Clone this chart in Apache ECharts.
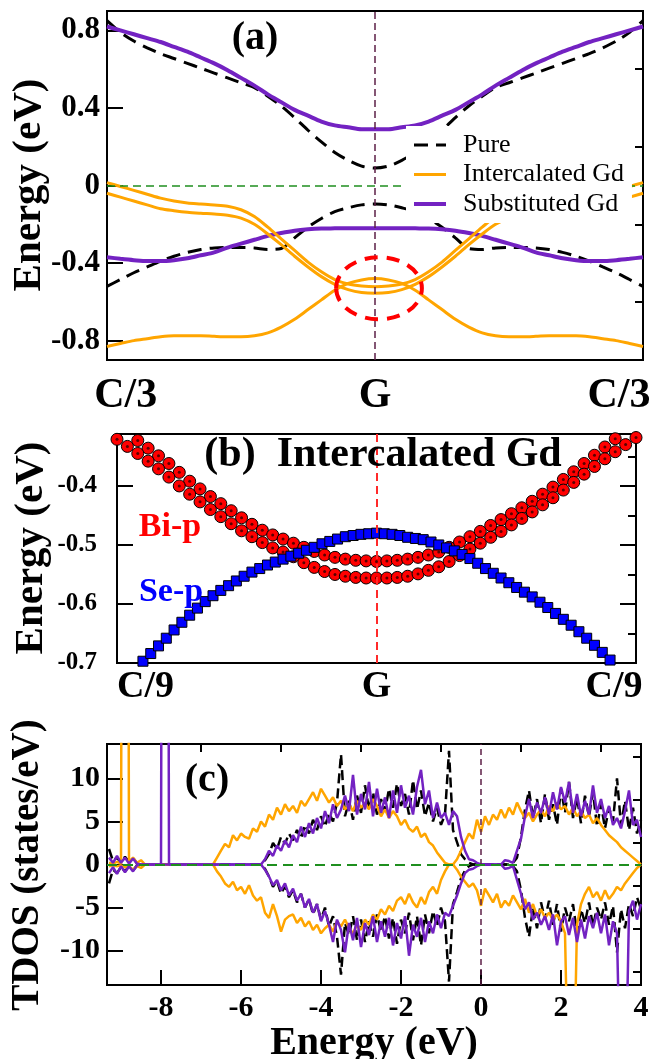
<!DOCTYPE html>
<html><head><meta charset="utf-8">
<script src="https://cdn.jsdelivr.net/npm/echarts@6/dist/echarts.min.js"></script>
<style>html,body{margin:0;padding:0;background:#fff}#c{width:650px;height:1059px}</style>
</head><body><div id="c"></div>
<script>
// ---------- Panel (a): band structure ----------
const kA = [-1,-0.95,-0.9,-0.85,-0.8,-0.75,-0.7,-0.65,-0.6,-0.55,-0.5,-0.45,-0.4,-0.35,-0.3,-0.25,-0.2,-0.15,-0.1,-0.05,0,0.05,0.1,0.15,0.2,0.25,0.3,0.35,0.4,0.45,0.5,0.55,0.6,0.65,0.7,0.75,0.8,0.85,0.9,0.95,1];
const pureCB = [0.85,0.79,0.745,0.71,0.68,0.655,0.63,0.605,0.58,0.555,0.53,0.505,0.46,0.41,0.35,0.285,0.225,0.17,0.13,0.10,0.09,0.10,0.13,0.17,0.225,0.285,0.35,0.41,0.46,0.505,0.53,0.555,0.58,0.605,0.63,0.655,0.68,0.71,0.745,0.79,0.85];
const pureVB = [-0.52,-0.485,-0.45,-0.42,-0.39,-0.365,-0.345,-0.33,-0.322,-0.32,-0.32,-0.322,-0.33,-0.325,-0.27,-0.215,-0.17,-0.135,-0.115,-0.10,-0.095,-0.10,-0.115,-0.135,-0.17,-0.215,-0.27,-0.325,-0.33,-0.322,-0.32,-0.32,-0.322,-0.33,-0.345,-0.365,-0.39,-0.42,-0.45,-0.485,-0.52];
const subCB = [0.82,0.80,0.78,0.76,0.74,0.715,0.69,0.66,0.63,0.595,0.555,0.515,0.47,0.43,0.39,0.36,0.33,0.31,0.30,0.29,0.29,0.29,0.30,0.31,0.33,0.36,0.39,0.43,0.47,0.515,0.555,0.595,0.63,0.66,0.69,0.715,0.74,0.76,0.78,0.80,0.82];
const subVB = [-0.37,-0.378,-0.385,-0.39,-0.39,-0.385,-0.375,-0.36,-0.345,-0.32,-0.30,-0.28,-0.26,-0.245,-0.233,-0.226,-0.222,-0.221,-0.22,-0.22,-0.22,-0.22,-0.22,-0.221,-0.222,-0.226,-0.233,-0.245,-0.26,-0.28,-0.30,-0.32,-0.345,-0.36,-0.375,-0.385,-0.39,-0.39,-0.385,-0.378,-0.37];
const intO1 = [0.015,-0.005,-0.025,-0.045,-0.065,-0.08,-0.09,-0.095,-0.10,-0.107,-0.125,-0.16,-0.215,-0.275,-0.335,-0.395,-0.445,-0.485,-0.508,-0.518,-0.522,-0.518,-0.508,-0.485,-0.445,-0.395,-0.335,-0.275,-0.215,-0.16,-0.125,-0.107,-0.10,-0.095,-0.09,-0.08,-0.065,-0.045,-0.025,-0.005,0.015];
const intO2 = [-0.04,-0.06,-0.08,-0.10,-0.12,-0.13,-0.138,-0.143,-0.147,-0.153,-0.168,-0.20,-0.25,-0.305,-0.365,-0.42,-0.47,-0.51,-0.537,-0.552,-0.556,-0.552,-0.537,-0.51,-0.47,-0.42,-0.365,-0.305,-0.25,-0.20,-0.168,-0.153,-0.147,-0.143,-0.138,-0.13,-0.12,-0.10,-0.08,-0.06,-0.04];
const intO3 = [-0.83,-0.815,-0.80,-0.79,-0.78,-0.775,-0.775,-0.775,-0.778,-0.78,-0.78,-0.775,-0.76,-0.73,-0.69,-0.64,-0.59,-0.54,-0.505,-0.487,-0.48,-0.487,-0.505,-0.54,-0.59,-0.64,-0.69,-0.73,-0.76,-0.775,-0.78,-0.78,-0.778,-0.775,-0.775,-0.775,-0.78,-0.79,-0.80,-0.815,-0.83];
const aYMajor = [-0.8,-0.4,0,0.4,0.8];
const aYMinor = [-0.6,-0.2,0.2,0.6];
const aXLabelPos = [-0.93,0,0.91];
const aXLabelText = ['C/3','G','C/3'];
const ellipseMark = [[0.015,-0.53,0.16,0.16]]; // centre k, centre E, half-width k, half-height E

// ---------- Panel (b): orbital-projected bands ----------
const kB = [-1,-0.96,-0.92,-0.88,-0.84,-0.8,-0.76,-0.72,-0.68,-0.64,-0.6,-0.56,-0.52,-0.48,-0.44,-0.4,-0.36,-0.32,-0.28,-0.24,-0.2,-0.16,-0.12,-0.08,-0.04,0,0.04,0.08,0.12,0.16,0.2,0.24,0.28,0.32,0.36,0.4,0.44,0.48,0.52,0.56,0.6,0.64,0.68,0.72,0.76,0.8,0.84,0.88,0.92,0.96,1];
const biUpper = [-0.298,-0.311,-0.323,-0.336,-0.349,-0.362,-0.377,-0.392,-0.405,-0.418,-0.430,-0.442,-0.454,-0.465,-0.475,-0.483,-0.490,-0.497,-0.504,-0.511,-0.517,-0.521,-0.524,-0.526,-0.527,-0.528,-0.527,-0.526,-0.524,-0.521,-0.517,-0.512,-0.504,-0.495,-0.486,-0.477,-0.467,-0.457,-0.447,-0.437,-0.426,-0.414,-0.402,-0.389,-0.376,-0.362,-0.348,-0.334,-0.320,-0.306,-0.293];
const biLower = [-0.321,-0.333,-0.345,-0.358,-0.371,-0.385,-0.400,-0.414,-0.427,-0.440,-0.452,-0.464,-0.476,-0.486,-0.496,-0.505,-0.512,-0.520,-0.530,-0.538,-0.545,-0.550,-0.553,-0.555,-0.556,-0.556,-0.556,-0.555,-0.553,-0.549,-0.543,-0.537,-0.528,-0.518,-0.507,-0.497,-0.487,-0.477,-0.466,-0.455,-0.444,-0.432,-0.420,-0.407,-0.394,-0.380,-0.367,-0.354,-0.342,-0.330,-0.318];
const kS = [-0.9,-0.87,-0.84,-0.81,-0.78,-0.75,-0.72,-0.69,-0.66,-0.63,-0.6,-0.57,-0.54,-0.51,-0.48,-0.45,-0.42,-0.39,-0.36,-0.33,-0.3,-0.27,-0.24,-0.21,-0.18,-0.15,-0.12,-0.09,-0.06,-0.03,0,0.03,0.06,0.09,0.12,0.15,0.18,0.21,0.24,0.27,0.3,0.33,0.36,0.39,0.42,0.45,0.48,0.51,0.54,0.57,0.6,0.63,0.66,0.69,0.72,0.75,0.78,0.81,0.84,0.87,0.9];
const seP = [-0.697,-0.684,-0.671,-0.658,-0.644,-0.631,-0.619,-0.607,-0.596,-0.586,-0.577,-0.569,-0.561,-0.553,-0.546,-0.540,-0.534,-0.529,-0.524,-0.519,-0.514,-0.509,-0.504,-0.498,-0.494,-0.490,-0.486,-0.484,-0.482,-0.481,-0.480,-0.481,-0.482,-0.484,-0.487,-0.489,-0.491,-0.495,-0.500,-0.505,-0.510,-0.516,-0.523,-0.531,-0.540,-0.548,-0.556,-0.564,-0.572,-0.580,-0.588,-0.597,-0.606,-0.616,-0.626,-0.636,-0.647,-0.658,-0.670,-0.682,-0.695];
const bYMajor = [-0.7,-0.6,-0.5,-0.4];
const bYMinor = [-0.65,-0.55,-0.45,-0.35];
const bXLabelPos = [-0.89,0,0.915];
const bXLabelText = ['C/9','G','C/9'];

// ---------- Panel (c): total DOS ----------
const energy = [-9.3,-9.2,-9.1,-9.0,-8.9,-8.8,-8.7,-8.6,-8.5,-8.4,
-8.3,-8.2,-8.1,-8.0,-7.9,-7.8,-7.7,-7.6,-7.5,-7.4,
-7.3,-7.2,-7.1,-7.0,-6.9,-6.8,-6.7,-6.6,-6.5,-6.4,
-6.3,-6.2,-6.1,-6.0,-5.9,-5.8,-5.7,-5.6,-5.5,-5.4,
-5.3,-5.2,-5.1,-5.0,-4.9,-4.8,-4.7,-4.6,-4.5,-4.4,
-4.3,-4.2,-4.1,-4.0,-3.9,-3.8,-3.7,-3.6,-3.5,-3.4,
-3.3,-3.2,-3.1,-3.0,-2.9,-2.8,-2.7,-2.6,-2.5,-2.4,
-2.3,-2.2,-2.1,-2.0,-1.9,-1.8,-1.7,-1.6,-1.5,-1.4,
-1.3,-1.2,-1.1,-1.0,-0.9,-0.8,-0.7,-0.6,-0.5,-0.4,
-0.3,-0.2,-0.1,0.0,0.1,0.2,0.3,0.4,0.5,0.6,
0.7,0.8,0.9,1.0,1.1,1.2,1.3,1.4,1.5,1.6,
1.7,1.8,1.9,2.0,2.1,2.2,2.3,2.4,2.5,2.6,
2.7,2.8,2.9,3.0,3.1,3.2,3.3,3.4,3.5,3.6,
3.7,3.8,3.9,4.0];
const pureUp = [1.8,0.4,0.8,0.2,0.9,0.3,0.8,0.1,0,0,
0,0,0,0,0,0,0,0,0,0,
0,0,0,0,0,0,0,0,0,0,
0,0,0,0,0,0,0,0,0,0.5,
1.2,2.5,1.8,3.2,2.4,3.6,2.8,4.0,3.0,4.6,
3.6,5.2,4.0,5.6,4.4,6.0,5.0,7.2,12.8,5.6,
7.4,5.2,8.0,6.0,9.2,6.4,8.4,5.8,7.6,6.2,
8.8,6.6,9.4,6.8,8.2,5.8,9.8,6.4,8.6,5.6,
7.2,5.0,6.6,4.6,5.8,13.2,4.0,2.6,1.2,0.6,
0.2,0,0,0,0,0,0,0,0,0,
0,0.2,0.8,3.2,6.4,8.6,5.4,7.6,4.8,8.2,
5.2,7.0,4.6,8.8,6.0,9.6,5.4,7.8,4.8,8.0,
5.6,8.4,4.4,7.0,4.2,6.6,5.0,10.0,4.6,7.4,
4.0,6.6,3.6,5.2];
const pureDn = [-2.2,-0.6,-1.0,-0.3,-0.8,-0.2,-0.7,-0.1,0,0,
0,0,0,0,0,0,0,0,0,0,
0,0,0,0,0,0,0,0,0,0,
0,0,0,0,0,0,0,0,0,-0.5,
-1.4,-2.6,-1.9,-3.4,-2.5,-3.8,-3.0,-4.4,-3.4,-5.0,
-4.0,-5.8,-4.6,-6.4,-5.0,-7.2,-6.0,-8.4,-12.8,-6.8,
-8.2,-6.0,-8.8,-6.4,-9.0,-6.6,-8.4,-5.8,-7.8,-6.0,
-8.6,-6.2,-9.2,-6.4,-8.0,-5.6,-8.8,-6.0,-9.4,-5.8,
-8.0,-5.4,-7.2,-5.0,-6.6,-13.6,-4.6,-3.2,-1.6,-0.7,
-0.2,0,0,0,0,0,0,0,0,0,
0,-0.2,-0.8,-3.0,-6.2,-8.4,-5.0,-7.4,-4.4,-6.4,
-4.2,-7.0,-4.6,-7.8,-5.0,-6.6,-4.6,-8.0,-5.2,-6.8,
-4.4,-7.2,-5.0,-6.4,-4.4,-7.0,-4.8,-10.2,-5.2,-7.4,
-4.6,-6.0,-3.8,-5.2];
const intUp = [0.2,0.1,0.3,0.1,200,0.3,0.8,0.2,0.5,0,
0,0,0,0,0,0,0,0,0,0,
0,0,0,0,0,0,0,0.8,1.6,2.4,
2.0,3.4,2.8,3.6,3.2,3.0,4.2,3.8,5.0,4.4,
5.8,5.2,6.6,5.8,7.0,6.2,6.8,6.0,7.4,6.8,
7.6,8.4,7.4,8.8,8.0,7.2,7.8,6.8,7.4,6.4,
7.0,6.2,7.4,6.6,7.2,6.4,7.6,6.8,5.6,6.4,
5.4,6.2,5.6,4.6,5.2,4.2,3.8,4.4,3.2,3.6,
2.6,2.2,1.4,0.8,0.2,0,0,0.6,1.6,2.6,
3.6,3.0,5.2,3.8,5.6,4.6,5.8,5.2,6.4,5.4,
6.6,5.8,7.2,6.2,5.4,6.0,5.0,5.8,6.4,5.6,
6.8,6.2,7.2,6.4,6.8,5.8,6.6,5.6,6.2,5.4,
5.8,4.8,5.4,4.6,4.0,3.4,3.0,2.6,2.0,1.6,
1.2,0.8,0.4,0];
const intDn = [-0.2,-0.1,-0.2,-0.1,-0.3,-0.2,-0.6,-0.2,-0.4,0,
0,0,0,0,0,0,0,0,0,0,
0,0,0,0,0,0,0,-0.8,-1.4,-2.2,
-2.6,-2.0,-3.0,-2.6,-3.4,-2.4,-3.6,-4.2,-3.8,-5.6,
-6.2,-4.6,-6.0,-7.8,-6.4,-6.0,-5.8,-6.8,-6.2,-7.2,
-6.6,-7.6,-7.0,-8.0,-7.4,-7.0,-7.8,-6.6,-7.2,-6.4,
-7.4,-8.0,-7.0,-7.6,-6.4,-7.0,-5.8,-6.4,-5.2,-5.8,
-4.8,-5.4,-4.2,-3.8,-4.6,-3.4,-4.4,-5.0,-3.8,-4.6,
-3.2,-2.6,-3.4,-1.8,-0.8,0,0,-0.6,-1.4,-2.0,
-2.6,-2.2,-3.0,-4.8,-2.8,-3.6,-4.4,-3.4,-5.0,-4.2,
-4.8,-3.6,-4.4,-5.2,-4.0,-5.6,-4.6,-6.0,-5.2,-6.2,
-5.6,-6.4,-5.8,-6.6,-8.0,-30,-30,-7.0,-4.6,-3.4,
-2.6,-3.8,-3.2,-4.2,-3.0,-4.0,-3.4,-2.6,-3.0,-2.2,
-1.6,-1.0,-0.4,0];
const subUp = [0.8,0.2,1.0,0.2,0.8,0.1,0.7,0.1,0,0,
0,0,0,0,200,0,0,0,0,0,
0,0,0,0,0,0,0,0,0,0,
0,0,0,0,0,0,0,0,0,0.6,
1.6,1.0,2.2,1.6,2.8,2.0,3.4,2.6,4.4,3.2,
4.8,3.6,5.4,4.2,6.2,4.8,7.0,5.4,6.4,8.0,
6.2,10.4,5.8,8.2,6.4,9.6,5.6,8.8,6.0,7.8,
5.4,8.6,6.0,9.2,6.6,8.0,5.8,9.0,11.0,7.0,
8.6,5.4,7.2,5.4,6.0,4.6,6.2,5.6,3.2,1.6,
0.6,0.5,0.2,0,0,0,0,0,0,0.5,
0.4,0.2,1.6,3.0,5.6,7.6,5.4,7.2,6.0,7.8,
5.8,8.4,6.4,9.0,7.2,9.6,6.0,8.2,5.6,7.4,
5.8,9.2,6.0,7.6,5.4,6.8,4.6,5.4,4.2,6.2,
8.6,4.6,5.2,3.2];
const subDn = [-1.0,-0.3,-1.1,-0.2,-0.9,-0.2,-0.8,-0.1,0,0,
0,0,0,0,0,0,0,0,0,0,
0,0,0,0,0,0,0,0,0,0,
0,0,0,0,0,0,0,0,0,-0.6,
-1.4,-2.4,-1.8,-3.0,-2.2,-3.6,-2.8,-4.2,-3.4,-5.0,
-4.0,-5.6,-4.6,-6.6,-5.4,-7.0,-9.0,-6.4,-7.6,-10.2,
-6.8,-8.8,-6.2,-9.6,-6.8,-8.2,-6.0,-9.0,-6.6,-8.4,
-6.2,-9.4,-6.8,-8.6,-6.0,-10.6,-7.0,-8.4,-6.2,-9.0,
-6.6,-8.0,-5.8,-7.4,-5.6,-6.0,-4.8,-3.6,-2.2,-1.0,
-0.6,-0.5,-0.2,0,0,0,0,0,0,-0.5,
-0.4,-0.2,-1.8,-3.4,-5.2,-4.4,-6.4,-5.6,-7.0,-6.0,
-7.6,-5.8,-9.4,-6.6,-6.0,-8.2,-6.2,-9.0,-6.4,-8.6,
-6.0,-7.4,-5.6,-8.0,-5.8,-9.4,-6.6,-8.0,-30,-30,
-5.4,-4.2,-6.4,-4.6];
const cXMajor = [-8,-6,-4,-2,0,2,4];
const cXMinor = [-9,-7,-5,-3,-1,1,3];
const cYMajor = [-10,-5,0,5,10];
const cYMinor = [-12.5,-7.5,-2.5,2.5,7.5,12.5];

// ---------- helpers ----------
const FONT = '"Liberation Serif","Times New Roman",serif';
const pts = (xs, ys) => xs.map((x, i) => [x, ys[i]]);
const pick = (pos, txt) => v => { let b = 0; pos.forEach((p, i) => { if (Math.abs(p - v) < Math.abs(pos[b] - v)) b = i; }); return txt[b]; };
const COL = { pure: '#000000', inter: '#FFA500', sub: '#7322C2', g: '#5c1f47', zero: '#1f8f1f' };
const bold = (s, c) => ({ fontSize: s, fontWeight: 'bold', fontFamily: FONT, color: c || '#000' });
function tickAxis(base, vals, len, label) {
  return Object.assign({
    type: 'value', axisLine: { show: false, onZero: false }, splitLine: { show: false },
    axisTick: { show: true, inside: true, length: len, lineStyle: { color: '#000', width: 2 }, customValues: vals },
    axisLabel: label ? Object.assign({ customValues: vals }, label) : { show: false }
  }, base);
}
const gridStyle = { show: true, borderColor: '#000', borderWidth: 2, backgroundColor: 'transparent', containLabel: false, outerBoundsMode: 'none' };

const aLine = (name, ys, color, width, dash) => ({
  type: 'line', name, xAxisIndex: 0, yAxisIndex: 0, data: pts(kA, ys), smooth: 0.3, symbol: 'none',
  lineStyle: { color, width, type: dash || 'solid' }, itemStyle: { color }, z: 3
});
const cLine = (name, ys, color, dash) => ({
  type: 'line', name, xAxisIndex: 2, yAxisIndex: 6, data: pts(energy, ys), symbol: 'none',
  lineStyle: { color, width: 2.5, type: dash || 'solid' }, itemStyle: { color }, clip: true
});
const txt = (x, y, text, size, fill, rot) => ({ type: 'text', x, y, z: 20, rotation: rot || 0,
  style: { text, fontSize: size, fontWeight: 'bold', fontFamily: FONT, fill, align: 'center', verticalAlign: 'middle', textAlign: 'center', textVerticalAlign: 'middle' } });

const series = [
  // (a)
  Object.assign(aLine('Pure', pureCB, COL.pure, 3, [14, 8]), {
    markLine: { silent: true, symbol: ['none', 'none'], label: { show: false }, animation: false,
      data: [ { xAxis: 0, lineStyle: { color: COL.g, width: 1.5, type: [7, 4] } },
              { yAxis: 0, lineStyle: { color: COL.zero, width: 1.5, type: [8, 5] } } ] }
  }),
  aLine('Pure', pureVB, COL.pure, 3, [14, 8]),
  aLine('Substituted Gd', subCB, COL.sub, 4),
  aLine('Substituted Gd', subVB, COL.sub, 4),
  aLine('Intercalated Gd', intO1, COL.inter, 3),
  aLine('Intercalated Gd', intO2, COL.inter, 3),
  aLine('Intercalated Gd', intO3, COL.inter, 3),
  { type: 'custom', name: 'mark', xAxisIndex: 0, yAxisIndex: 0, data: ellipseMark, z: 6, silent: true,
    renderItem: (params, api) => {
      const c = api.coord([api.value(0), api.value(1)]);
      const s = api.size([api.value(2), api.value(3)]);
      return { type: 'ellipse', shape: { cx: c[0], cy: c[1], rx: s[0], ry: s[1] },
        style: { fill: 'none', stroke: '#ff0000', lineWidth: 4, lineDash: [13, 9] } };
    } },
  // (b)
  { type: 'scatter', name: 'Bi-p', xAxisIndex: 1, yAxisIndex: 2, data: pts(kB, biUpper), symbol: 'circle', symbolSize: 12, clip: true,
    itemStyle: { color: '#ff0000', borderColor: '#000', borderWidth: 1, opacity: 1 } },
  { type: 'scatter', name: 'Bi-p', xAxisIndex: 1, yAxisIndex: 2, data: pts(kB, biLower), symbol: 'circle', symbolSize: 12, clip: true,
    itemStyle: { color: '#ff0000', borderColor: '#000', borderWidth: 1, opacity: 1 } },
  { type: 'scatter', name: 'Bi-p dot', xAxisIndex: 1, yAxisIndex: 2, data: pts(kB, biUpper).concat(pts(kB, biLower)), symbol: 'circle', symbolSize: 3, clip: true, silent: true,
    itemStyle: { color: '#300000' } },
  { type: 'scatter', name: 'Se-p', xAxisIndex: 1, yAxisIndex: 2, data: pts(kS, seP), symbol: 'rect', symbolSize: 10, clip: true,
    itemStyle: { color: '#0000ff', borderColor: '#000', borderWidth: 1, opacity: 1 },
    markLine: { silent: true, symbol: ['none', 'none'], label: { show: false }, animation: false,
      data: [ { xAxis: 0, lineStyle: { color: '#ff2a2a', width: 2, type: [8, 5] } } ] } },
  // (c)
  cLine('Pure', pureUp, COL.pure, [10, 5]),
  cLine('Pure', pureDn, COL.pure, [10, 5]),
  cLine('Intercalated Gd', intUp, COL.inter),
  cLine('Intercalated Gd', intDn, COL.inter),
  Object.assign(cLine('Substituted Gd', subUp, COL.sub), {
    markLine: { silent: true, symbol: ['none', 'none'], label: { show: false }, animation: false,
      data: [ { xAxis: 0, lineStyle: { color: COL.g, width: 1.5, type: [6, 4] } },
              { yAxis: 0, lineStyle: { color: COL.zero, width: 2, type: [10, 6] } } ] }
  }),
  cLine('Substituted Gd', subDn, COL.sub)
];

const option = {
  animation: false,
  backgroundColor: '#fff',
  grid: [
    Object.assign({ left: 107, top: 11, width: 536, height: 349 }, gridStyle),
    Object.assign({ left: 117, top: 434, width: 519, height: 229 }, gridStyle),
    Object.assign({ left: 107, top: 744, width: 534, height: 241 }, gridStyle)
  ],
  xAxis: [
    { gridIndex: 0, type: 'value', min: -1, max: 1, axisLine: { show: false, onZero: false }, splitLine: { show: false }, axisTick: { show: false },
      axisLabel: Object.assign({ customValues: aXLabelPos, formatter: pick(aXLabelPos, aXLabelText), margin: 15 }, bold(42)) },
    { gridIndex: 1, type: 'value', min: -1, max: 1, axisLine: { show: false, onZero: false }, splitLine: { show: false }, axisTick: { show: false },
      axisLabel: Object.assign({ customValues: bXLabelPos, formatter: pick(bXLabelPos, bXLabelText), margin: 5 }, bold(38)) },
    tickAxis({ gridIndex: 2, min: -9.35, max: 4, name: 'Energy (eV)', nameLocation: 'middle', nameGap: 36, nameTextStyle: bold(40) },
      cXMajor, 15, Object.assign({ margin: 8 }, bold(30))),
    tickAxis({ gridIndex: 2, min: -9.35, max: 4 }, cXMinor, 8, null)
  ],
  yAxis: [
    tickAxis({ gridIndex: 0, min: -0.9, max: 0.9 }, aYMajor, 16, Object.assign({ margin: 7 }, bold(31))),
    tickAxis({ gridIndex: 0, min: -0.9, max: 0.9 }, aYMinor, 8, null),
    tickAxis({ gridIndex: 1, min: -0.7, max: -0.312 }, bYMajor, 16, Object.assign({ margin: 20 }, bold(25))),
    tickAxis({ gridIndex: 1, min: -0.7, max: -0.312 }, bYMinor, 8, null),
    tickAxis({ gridIndex: 1, min: -0.7, max: -0.312, position: 'right' }, bYMajor, 16, null),
    tickAxis({ gridIndex: 1, min: -0.7, max: -0.312, position: 'right' }, bYMinor, 8, null),
    tickAxis({ gridIndex: 2, min: -14, max: 14 }, cYMajor, 16, Object.assign({ margin: 7 }, bold(30))),
    tickAxis({ gridIndex: 2, min: -14, max: 14 }, cYMinor, 8, null)
  ],
  legend: {
    data: ['Pure', 'Intercalated Gd', 'Substituted Gd'], orient: 'vertical', left: 406, top: 126,
    itemWidth: 32, itemHeight: 4, itemGap: 3.5, backgroundColor: '#fff', padding: [6, 8, 6, 6],
    selectedMode: false, z: 10,
    itemStyle: { opacity: 0 },
    lineStyle: { width: 'inherit', type: 'inherit' },
    textStyle: { fontFamily: FONT, fontSize: 26, lineHeight: 26, color: '#000', padding: [0, 0, 0, 12] }
  },
  graphic: [
    txt(29, 185, 'Energy (eV)', 41, '#000', Math.PI / 2),
    txt(31, 548, 'Energy (eV)', 41, '#000', Math.PI / 2),
    txt(28, 865, 'TDOS (states/eV)', 39, '#000', Math.PI / 2),
    txt(255, 39, '(a)', 40, '#000'),
    txt(383, 455, '(b)  Intercalated Gd', 42, '#000'),
    txt(170, 527, 'Bi-p', 34, '#ff0000'),
    txt(171, 592, 'Se-p', 34, '#0000ff'),
    txt(207, 781, '(c)', 40, '#000')
  ],
  series
};
const chart = echarts.init(document.getElementById('c'), null, { renderer: 'canvas', width: 650, height: 1059 });
chart.setOption(option);
</script>
</body></html>
